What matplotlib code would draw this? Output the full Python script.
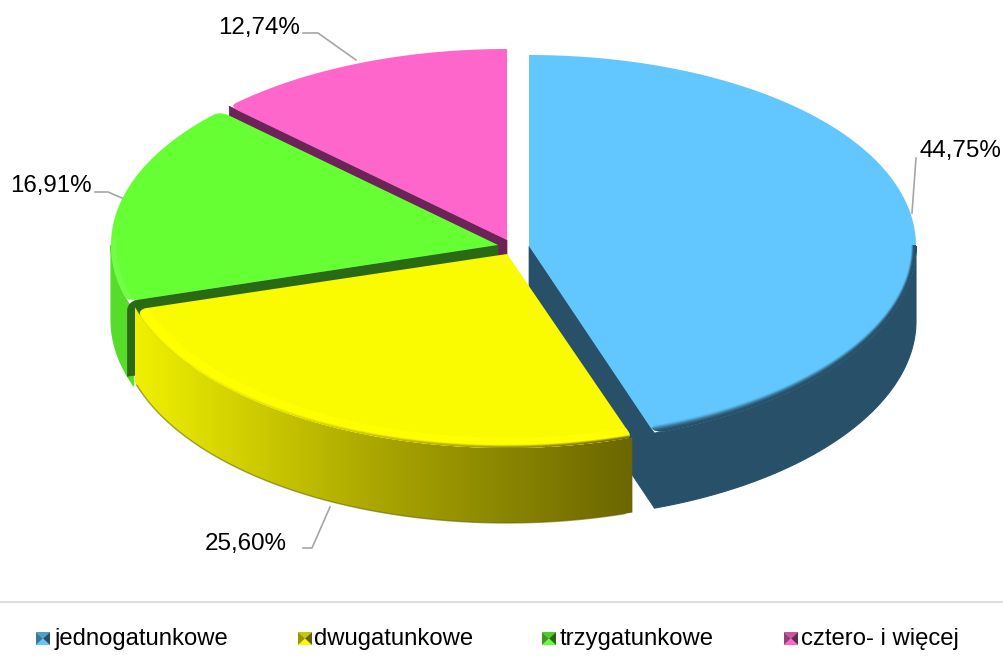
import numpy as np
import matplotlib
matplotlib.use("Agg")
import matplotlib.pyplot as plt
from matplotlib.collections import LineCollection
from matplotlib.colors import LinearSegmentedColormap, to_rgb
from matplotlib.patches import Polygon

plt.rcParams["font.family"] = ["Liberation Sans", "DejaVu Sans"]

# Data
categories = ["jednogatunkowe", "dwugatunkowe", "trzygatunkowe", "cztero- i więcej"]
values = [44.75, 25.60, 16.91, 12.74]
labels = ["44,75%", "25,60%", "16,91%", "12,74%"]

# Pie layout, in pixels
apexes = [(529, 246), (507, 254), (498, 245), (507, 240)]
front_radii = [198, 194, 198, 198]
rx, ry_back = 387, 191
depth = 75

top_colors = ["#62C7FF", "#FAFA00", "#66FF33", "#FF66CC"]
cut_colors = ["#285068", "#8A8400", "#2A6A14", "#6B2358"]
outer_colors = ["#285068", None, "#55DD2A", "#6B2358"]
yellow_wall = LinearSegmentedColormap.from_list("wall", ["#F0F000", "#A8A400", "#6B6600"])
round_start = [False, True, True, True]
round_end = [True, True, True, False]

legend_x = [36, 298, 542, 784]
legend_text_x = [55, 314, 560, 801]

# label position, then the leader line points
label_pos = [(920, 151), (205, 544), (10, 186), (218, 28)]
leaders = [
    [(916, 158), (912, 213)],
    [(303, 548), (312, 548), (330, 507)],
    [(95, 192), (108, 192), (122, 198)],
    [(303, 33), (318, 33), (356, 60)],
]


def rim(i, a1, a2, n=160):
    # points of the tilted ellipse, angle clockwise from the top
    t = np.radians(np.linspace(a1, a2, n))
    u, v = np.sin(t), np.cos(t)
    mid = (ry_back + front_radii[i]) / 2
    half = (front_radii[i] - ry_back) / 2
    return apexes[i][0] + rx * u, apexes[i][1] - mid * v + half * v * v


def soften(pts, at, d=7, n=10):
    # round the outline vertex nearest to point at (outline must be densely sampled)
    pts = np.asarray(pts, dtype=float)
    corner = int(np.argmin(np.hypot(pts[:, 0] - at[0], pts[:, 1] - at[1])))
    pts = np.roll(pts, -corner, axis=0)
    dist = np.hypot(pts[:, 0] - pts[0, 0], pts[:, 1] - pts[0, 1])
    fwd = int(np.argmax(dist >= d))
    back = len(pts) - 1 - int(np.argmax(dist[::-1] >= d))
    a, b, c = pts[back], pts[0], pts[fwd]
    s = np.linspace(0, 1, n)[:, None]
    curve = (1 - s) ** 2 * a + 2 * s * (1 - s) * b + s ** 2 * c
    return np.vstack([curve, pts[fwd + 1:back]])


fig = plt.figure(figsize=(10.04, 6.65), dpi=100)
ax = fig.add_axes([0, 0, 1, 1])

edges = np.concatenate([[0], np.cumsum(values)]) / sum(values) * 360
slices = [(i, edges[i], edges[i + 1]) for i in range(len(values))]

# back to front: pink, green, blue, yellow
for i, a1, a2 in [slices[3], slices[2], slices[0], slices[1]]:
    apex = np.array(apexes[i], dtype=float)
    x, y = rim(i, a1, a2)
    start, end = np.array([x[0], y[0]]), np.array([x[-1], y[-1]])
    lo, hi = max(a1, 90), min(a2, 270)

    # outer wall, only where the rim faces the viewer
    if lo < hi:
        wx, wy = rim(i, lo - (3 if i == 2 else 0), hi + (1 if i == 1 else 0))
        wall = np.column_stack([np.r_[wx, wx[::-1]], np.r_[wy, wy[::-1] + depth]])
        if i == 1:
            patch = Polygon(wall, closed=True, fc="none", ec="none")
            ax.add_patch(patch)
            img = ax.imshow(np.linspace(0, 1, 256).reshape(1, -1), cmap=yellow_wall, aspect="auto",
                            extent=(wx.min(), wx.max(), wy.max() + depth, wy.min()), zorder=1)
            img.set_clip_path(patch)
            ax.plot(wx[2:-2], wy[2:-2] + depth, color="#6B6600", lw=1, alpha=0.6, zorder=1)
        else:
            ax.add_patch(Polygon(wall, closed=True, fc=outer_colors[i], ec=outer_colors[i], lw=0.8, zorder=1))

    # straight cut face
    if i != 1:
        c = end if i == 0 else start
        down = np.array([0, depth])
        face = np.vstack([np.linspace(apex, c, 60), np.linspace(c, c + down, 30)[1:], [apex + down]])
        if i == 2:
            face = soften(face, c, d=9)
        ax.add_patch(Polygon(face, closed=True, fc=cut_colors[i], ec=cut_colors[i], lw=0.5, zorder=1))

    # top of the slice, with rounded rim ends
    outline = np.vstack([np.linspace(apex, start, 60), np.column_stack([x, y])[1:], np.linspace(end, apex, 60)[1:-1]])
    if round_start[i]:
        outline = soften(outline, start)
    if round_end[i]:
        outline = soften(outline, end)
    top = Polygon(outline, closed=True, fc=top_colors[i], ec="none", zorder=1)
    ax.add_patch(top)

    if lo >= hi:
        continue

    # bevel along the front rim
    bx, by = rim(i, lo, hi)
    if i == 0:
        for k in range(12):
            line, = ax.plot(apex[0] + (bx - apex[0]) * (1 - 0.001 * k),
                            apex[1] + (by - apex[1]) * (1 - 0.0035 * k),
                            color=outer_colors[0], lw=1.4, alpha=(1 - k / 12) ** 1.5, zorder=1)
            line.set_clip_path(top)
    elif i == 1:
        light, = ax.plot(bx, by, color="#FFFF00", lw=15, zorder=1)
        light.set_clip_path(top)
        pos = (bx[:-1] - bx.min()) / (bx.max() - bx.min())
        for k in range(4):
            yy = apex[1] + (by - apex[1]) * (1 - 0.004 * k)
            segs = np.stack([np.column_stack([bx[:-1], yy[:-1]]), np.column_stack([bx[1:], yy[1:]])], axis=1)
            rgba = yellow_wall(pos)
            rgba[:, 3] = pos * (1 - k / 4)
            lc = LineCollection(segs, colors=rgba, linewidths=1.3, zorder=1)
            ax.add_collection(lc)
            lc.set_clip_path(top)
    else:
        light, = ax.plot(bx, by, color="#70FF45", lw=8, zorder=1)
        light.set_clip_path(top)

# leader lines and labels
for pts, pos, text in zip(leaders, label_pos, labels):
    ax.plot(*zip(*pts), color="#A6A6A6", lw=1.2, zorder=2)
    ax.text(pos[0], pos[1], text, fontsize=17.4, color="black", ha="left", va="center", zorder=3)

# legend
ax.plot([0, 1004], [602, 602], color="#D9D9D9", lw=1.2)
for mx, tx, name, col in zip(legend_x, legend_text_x, categories, top_colors):
    x0, x1, y0, y1 = mx, mx + 14, 632, 645
    c = ((x0 + x1) / 2, (y0 + y1) / 2)
    base = np.array(to_rgb(col))
    ax.add_patch(Polygon([(x0, y0), (x1, y0), c], fc=base * 0.8, ec="none"))
    ax.add_patch(Polygon([(x0, y1), (x1, y1), c], fc=base, ec="none"))
    ax.add_patch(Polygon([(x0, y0), (x0, y1), c], fc=base * 0.6, ec="none"))
    ax.add_patch(Polygon([(x1, y0), (x1, y1), c], fc=base * 0.4, ec="none"))
    ax.text(tx, 639, name, fontsize=17.2, color="black", ha="left", va="center")

ax.set_xlim(0, 1004)
ax.set_ylim(665, 0)
ax.axis("off")

fig.savefig("out.png", dpi=100)
